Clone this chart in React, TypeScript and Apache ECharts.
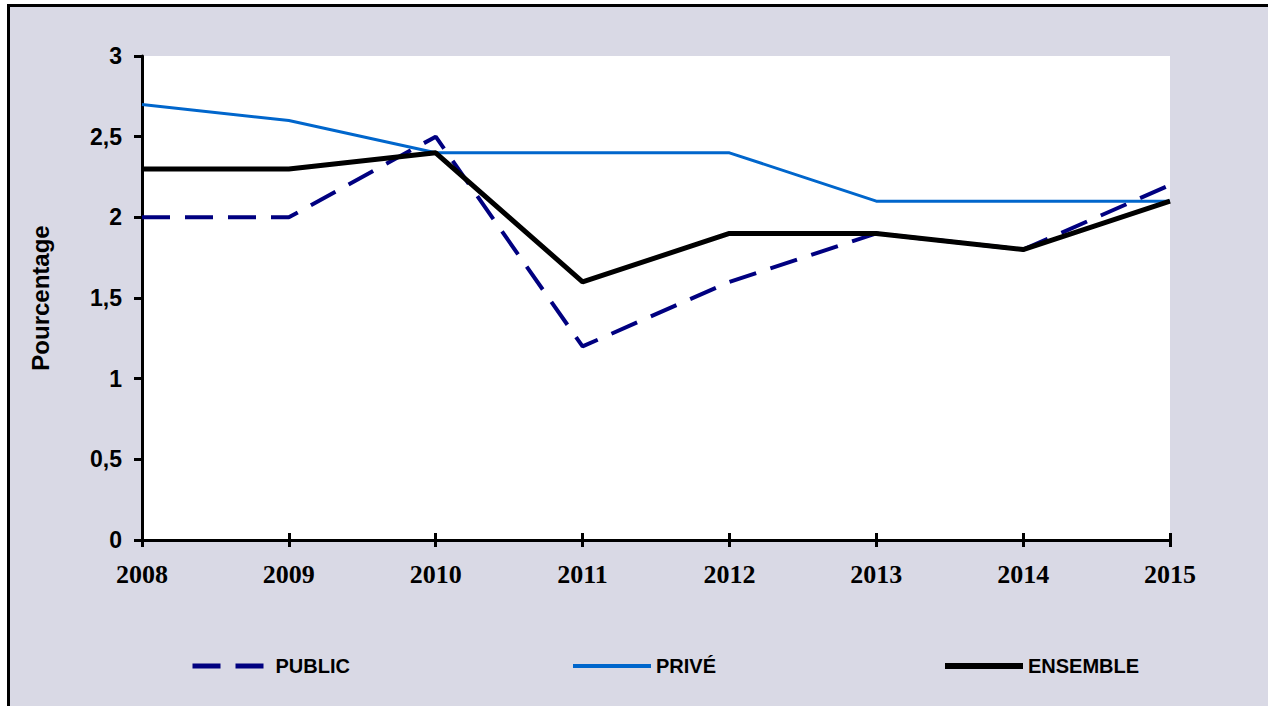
import React, { useEffect, useRef } from "react";
import * as echarts from "echarts";

const years = ["2008", "2009", "2010", "2011", "2012", "2013", "2014", "2015"];
const publicValues = [2.0, 2.0, 2.5, 1.2, 1.6, 1.9, 1.8, 2.2];
const priveValues = [2.7, 2.6, 2.4, 2.4, 2.4, 2.1, 2.1, 2.1];
const ensembleValues = [2.3, 2.3, 2.4, 1.6, 1.9, 1.9, 1.8, 2.1];
const seriesNames = ["PUBLIC", "PRIVÉ", "ENSEMBLE"];
const seriesColors = ["#000080", "#0066CC", "#000000"];
const seriesWidths = [4, 3, 5];
const legendLefts = [190, 571, 942];

export default function App() {
  const ref = useRef<HTMLDivElement>(null);
  useEffect(() => {
    if (!ref.current) return;
    const chart = echarts.init(ref.current, undefined, { renderer: "svg" });
    const sans = "Liberation Sans, Arial, sans-serif";
    const serif = "Liberation Serif, Times New Roman, serif";
    chart.setOption({
      animation: false,
      backgroundColor: "transparent",
      grid: {
        left: 142,
        right: 98,
        top: 56,
        bottom: 166,
        show: true,
        backgroundColor: "#ffffff",
        borderWidth: 0,
      },
      legend: seriesNames.map((n, i) => ({
        data: [n],
        left: legendLefts[i],
        top: 656,
        itemWidth: 78,
        itemHeight: 14,
        padding: 0,
        itemStyle: { opacity: 0, borderWidth: 0 },
        lineStyle: { width: seriesWidths[i] + 1, color: seriesColors[i] },
        textStyle: { fontFamily: sans, fontWeight: "bold", fontSize: 20, color: "#000" },
      })),
      xAxis: [
        {
          type: "category",
          data: years,
          boundaryGap: false,
          position: "bottom",
          axisLine: { lineStyle: { color: "#000", width: 3 } },
          axisTick: { show: true, length: 7, lineStyle: { color: "#000", width: 3 } },
          axisLabel: {
            color: "#000",
            fontFamily: serif,
            fontWeight: "bold",
            fontSize: 26,
            margin: 21,
          },
          splitLine: { show: false },
        },
        {
          type: "category",
          data: years,
          boundaryGap: false,
          position: "bottom",
          axisLine: { show: false },
          axisTick: { show: true, inside: true, length: 7, lineStyle: { color: "#000", width: 3 } },
          axisLabel: { show: false },
          splitLine: { show: false },
        },
      ],
      yAxis: {
        type: "value",
        min: 0,
        max: 3,
        interval: 0.5,
        name: "Pourcentage",
        nameLocation: "middle",
        nameRotate: 90,
        nameGap: 90,
        nameTextStyle: { color: "#000", fontFamily: sans, fontWeight: "bold", fontSize: 24 },
        axisLine: { show: true, lineStyle: { color: "#000", width: 3 } },
        axisTick: { show: true, length: 8, lineStyle: { color: "#000", width: 3 } },
        axisLabel: {
          color: "#000",
          fontFamily: sans,
          fontWeight: "bold",
          fontSize: 23,
          margin: 20,
          formatter: (v: number) => String(v).replace(".", ","),
        },
        splitLine: { show: false },
      },
      series: [
        {
          name: seriesNames[0],
          type: "line",
          data: publicValues,
          symbol: "none",
          lineStyle: { color: seriesColors[0], width: seriesWidths[0], type: [28, 15] },
          itemStyle: { color: seriesColors[0] },
        },
        {
          name: seriesNames[1],
          type: "line",
          data: priveValues,
          symbol: "none",
          lineStyle: { color: seriesColors[1], width: seriesWidths[1] },
          itemStyle: { color: seriesColors[1] },
        },
        {
          name: seriesNames[2],
          type: "line",
          data: ensembleValues,
          symbol: "none",
          lineStyle: { color: seriesColors[2], width: seriesWidths[2] },
          itemStyle: { color: seriesColors[2] },
        },
      ],
    });
    return () => chart.dispose();
  }, []);
  return (
    <div style={{ position: "absolute", left: 0, top: 0, width: 1268, height: 706, background: "#ffffff", overflow: "hidden" }}>
      <div
        style={{
          position: "absolute",
          left: 7,
          top: 4,
          right: 0,
          bottom: 0,
          background: "#D9D9E5",
          borderLeft: "3px solid #000",
          borderTop: "3px solid #000",
        }}
      />
      <div ref={ref} style={{ position: "absolute", left: 0, top: 0, width: 1268, height: 706 }} />
    </div>
  );
}
